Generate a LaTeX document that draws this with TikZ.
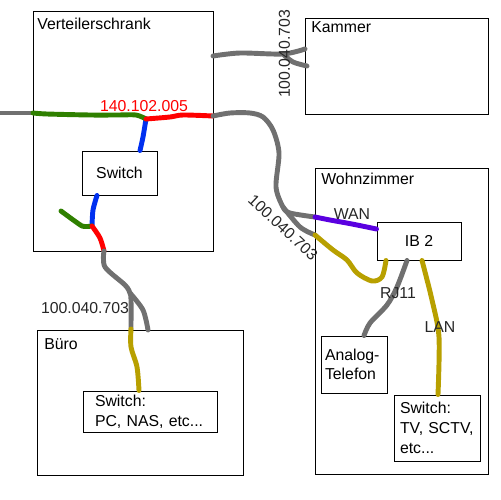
\documentclass[tikz,border=0pt]{standalone}
\usepackage{fontspec}
\setmainfont{Liberation Sans}
\usepackage{xcolor}
\usetikzlibrary{positioning}
\definecolor{cablegray}{HTML}{707070}
\definecolor{cablegreen}{HTML}{2F8000}
\definecolor{cablered}{HTML}{FF0000}
\definecolor{cableblue}{HTML}{0030F0}
\definecolor{cablepurple}{HTML}{5A00E0}
\definecolor{cableolive}{HTML}{B8A000}

\begin{document}
\begin{tikzpicture}[
    x=0.02cm, y=-0.02cm,
    font=\fontsize{9}{11.2}\selectfont,
    room/.style={rectangle, draw, line width=0.55pt, inner sep=0pt},
    device/.style={rectangle, draw, line width=0.55pt, inner sep=0pt, align=left},
    roomlabel/.style={anchor=north west, inner sep=0pt},
    cable/.style={line width=2.8pt, line cap=round, line join=round},
    netlabel/.style={inner sep=0pt, text=black!85}
]
    \useasboundingbox (0,0) rectangle (500,500);

    % Rooms
    \node[room, minimum width=3.6cm, minimum height=4.82cm] (vert) at (123,131.5) {};
    \node[room, minimum width=3.66cm, minimum height=1.92cm] (kammer) at (396.5,66) {};
    \node[room, minimum width=3.46cm, minimum height=6.14cm] (wohn) at (401.5,321.5) {};
    \node[room, minimum width=4.12cm, minimum height=2.9cm] (buero) at (140,402.5) {};

    % Junctions and free cable ends
    \coordinate (feed) at (0,113);
    \coordinate (vertin) at (33,113);
    \coordinate (splice) at (146,119);
    \coordinate (vertout) at (213,116);
    \coordinate (kammerout) at (213,56);
    \coordinate (kammerin) at (305,49);
    \coordinate (kammerend) at (307,66);
    \coordinate (kammerfork) at (283,54);
    \coordinate (wohnfork) at (283,207);
    \coordinate (wanin) at (315,217);
    \coordinate (olivein) at (315,235);
    \coordinate (stub) at (61,211);
    \coordinate (lowsplice) at (92,226);
    \coordinate (vertdown) at (104,251);
    \coordinate (buerofork) at (130,293);
    \coordinate (bueroin) at (131,329);
    \coordinate (bueroend) at (148,330);

    % Devices
    \node[device, minimum width=1.5cm, minimum height=0.88cm] (switch) at (119.5,173) {Switch};
    \node[device, minimum width=1.68cm, minimum height=0.76cm] (ib) at (419,241) {IB 2};
    \node[device, minimum width=2.68cm, minimum height=0.82cm, text width=2.2cm] (swbuero) at (150,411.5) {Switch:\\PC, NAS, etc...};
    \node[device, minimum width=1.32cm, minimum height=1.14cm, text width=1.16cm] (analog) at (354,364.5) {Analog-\\Telefon};
    \node[device, minimum width=1.72cm, minimum height=1.32cm, text width=1.48cm] (swwohn) at (437,428) {Switch:\\TV, SCTV,\\etc...};

    % Cables in the cabinet
    \draw[cable, cablegray] (feed) -- (vertin);
    \draw[cable, cableblue] plot[smooth] coordinates {(splice) (143,137) (switch.north -| 140,0)};
    \draw[cable, cablegreen] plot[smooth] coordinates {(vertin) (47,114) (90,115) (118,115) (136,115) (splice)};
    \draw[cable, cablered] plot[smooth] coordinates {(splice) (170,117) (183,115) (vertout)};
    \draw[cable, cableblue] plot[smooth] coordinates {(switch.south -| 97,0) (93,210) (lowsplice)};
    \draw[cable, cablegreen] plot[smooth, tension=0.3] coordinates {(stub) (82,226) (lowsplice)};
    \draw[cable, cablered] plot[smooth] coordinates {(lowsplice) (100,238) (vertdown)};

    % Cable to Kammer
    \draw[cable, cablegray] plot[smooth] coordinates {(kammerout) (240,53) (kammerfork) (kammerin)};
    \draw[cable, cablegray] plot[smooth] coordinates {(kammerfork) (293,62) (kammerend)};

    % Cable to Wohnzimmer
    \draw[cable, cablegray] plot[smooth] coordinates {(vertout) (230,113) (250,113) (263,117) (273,130) (279,153) (276,187) (wohnfork) (290,213) (wanin)};
    \draw[cable, cablegray] plot[smooth] coordinates {(wohnfork) (300,227) (olivein)};
    \draw[cable, cablepurple] plot[smooth] coordinates {(wanin) (330,220) (352,224) (ib.west |- 0,229)};
    \draw[cable, cableolive] plot[smooth] coordinates {(olivein) (333,250) (347,260) (357,273) (372,281) (382,277) (ib.south -| 386,0)};
    \draw[cable, cablegray] plot[smooth] coordinates {(ib.south -| 407,0) (397,287) (387,305) (370,323) (analog.north -| 364,0)};
    \draw[cable, cableolive] plot[smooth] coordinates {(ib.south -| 422,0) (432,300) (439,337) (swwohn.north -| 438,0)};

    % Cable to Buero
    \draw[cable, cablegray] plot[smooth] coordinates {(vertdown) (105,267) (125,285) (buerofork) (131,300) (bueroin)};
    \draw[cable, cablegray] plot[smooth] coordinates {(buerofork) (143,310) (bueroend)};
    \draw[cable, cableolive] plot[smooth] coordinates {(bueroin) (131,347) (137,367) (swbuero.north -| 139,0)};

    % Room labels
    \node[roomlabel] (lblvert) at (37,18) {Verteilerschrank};
    \node[roomlabel] (lblkammer) at (311,21) {Kammer};
    \node[roomlabel] (lblwohn) at (321,173) {Wohnzimmer};
    \node[roomlabel] (lblbuero) at (44,338) {Büro};

    % Net labels
    \node[netlabel, text=cablered] (lblred) at (144,106) {140.102.005};
    \node[netlabel, rotate=90] (lblkam) at (284.5,54) {100.040.703};
    \node[netlabel, rotate=-43] (lblwohnz) at (283,228) {100.040.703};
    \node[netlabel] (lblbue) at (85,308) {100.040.703};
    \node[netlabel] (lblwan) at (352,214) {WAN};
    \node[netlabel] (lblrj) at (398,293) {RJ11};
    \node[netlabel] (lbllan) at (440,327) {LAN};
\end{tikzpicture}
\end{document}
